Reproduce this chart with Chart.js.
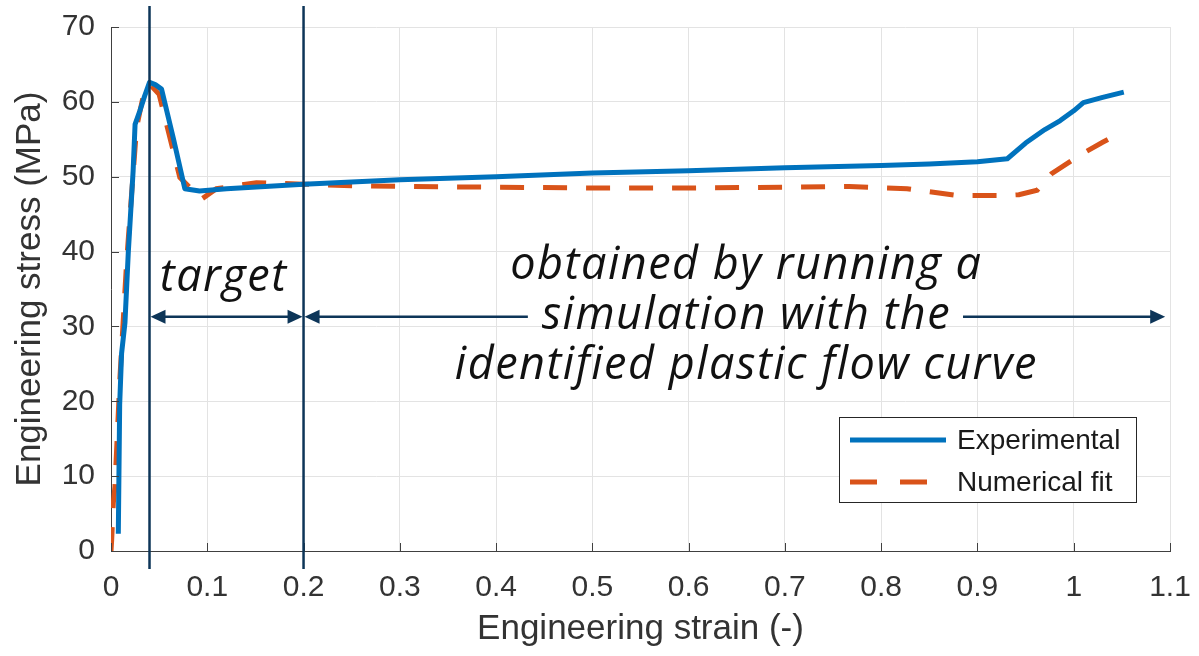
<!DOCTYPE html>
<html>
<head>
<meta charset="utf-8">
<script src="https://cdn.jsdelivr.net/npm/chart.js@4/dist/chart.umd.min.js"></script>
<style>
  html, body { margin: 0; padding: 0; background: #ffffff; }
  #wrap { width: 1199px; height: 656px; position: relative; }
</style>
</head>
<body>
<div id="wrap"><canvas id="stressChart"></canvas></div>
<script>
// Experimental curve
const expStrain = [0.0076, 0.009, 0.011, 0.0145, 0.018, 0.023, 0.025, 0.030, 0.035, 0.040, 0.046, 0.0525, 0.065, 0.0767, 0.092, 0.12, 0.16, 0.20, 0.30, 0.40, 0.50, 0.60, 0.70, 0.80, 0.85, 0.90, 0.931, 0.95, 0.97, 0.986, 1.0, 1.010, 1.03, 1.052];
const expStress = [2.3, 19.5, 26.4, 30.5, 40.0, 50.8, 57.0, 58.8, 60.8, 62.6, 62.3, 61.7, 55.0, 48.4, 48.1, 48.4, 48.7, 49.0, 49.6, 50.0, 50.5, 50.8, 51.2, 51.5, 51.7, 52.0, 52.4, 54.5, 56.3, 57.5, 58.8, 59.9, 60.6, 61.3];

// Numerical fit curve
const numStrain = [0.0, 0.0007, 0.0024, 0.0041, 0.0093, 0.0163, 0.0214, 0.0266, 0.033, 0.040, 0.050, 0.0715, 0.094, 0.1095, 0.151, 0.20, 0.25, 0.30, 0.40, 0.50, 0.60, 0.70, 0.767, 0.827, 0.878, 0.93, 0.943, 0.962, 0.977, 1.008, 1.03, 1.052];
const numStress = [0.0, 1.5, 6.4, 8.6, 23.2, 38.8, 47.7, 56.6, 60.5, 62.4, 61.0, 49.9, 47.0, 48.4, 49.2, 49.0, 48.8, 48.7, 48.6, 48.5, 48.5, 48.6, 48.7, 48.4, 47.5, 47.5, 47.6, 48.2, 50.4, 53.0, 54.6, 56.1];

const seriesNames = ['Experimental', 'Numerical fit'];
const xTickLabels = ['0', '0.1', '0.2', '0.3', '0.4', '0.5', '0.6', '0.7', '0.8', '0.9', '1', '1.1'];
const yTickLabels = ['0', '10', '20', '30', '40', '50', '60', '70'];

// Region markers and annotation text (strain / stress units)
const regionBounds = [0.04, 0.2];
const arrowStress = 31.3;
const longArrowGap = [0.433, 0.885];
const longArrowEnd = 1.095;
const targetLabel = { text: 'target', x: 0.117, y: 36.4 };
const noteLines = ['obtained by running a', 'simulation with the', 'identified plastic flow curve'];
const noteAnchor = { x: 0.66, y: 31.4 };

const BLUE = '#0072BD';
const ORANGE = '#D95319';
const NAVY = '#0d3558';
const AXIS = '#404040';
const TEXT = '#333333';

const toPoints = (xs, ys) => xs.map((x, i) => ({ x: x, y: ys[i] }));

function drawArrowHead(ctx, tipX, y, dir) {
    const len = 15, half = 7;
    ctx.beginPath();
    ctx.moveTo(tipX, y);
    ctx.lineTo(tipX - dir * len, y - half);
    ctx.lineTo(tipX - dir * len, y + half);
    ctx.closePath();
    ctx.fill();
}

function drawArrow(ctx, x1, x2, y, headLeft, headRight) {
    ctx.beginPath();
    ctx.moveTo(x1 + (headLeft ? 10 : 0), y);
    ctx.lineTo(x2 - (headRight ? 10 : 0), y);
    ctx.stroke();
    if (headLeft) drawArrowHead(ctx, x1, y, -1);
    if (headRight) drawArrowHead(ctx, x2, y, 1);
}

// inward tick marks on the bottom and left axes
const innerTicks = {
    id: 'innerTicks',
    afterDraw(chart) {
        const { ctx, chartArea, scales } = chart;
        ctx.save();
        ctx.strokeStyle = AXIS;
        ctx.lineWidth = 1;
        scales.x.ticks.forEach(t => {
            const px = Math.round(scales.x.getPixelForValue(t.value)) + 0.5;
            ctx.beginPath();
            ctx.moveTo(px, chartArea.bottom);
            ctx.lineTo(px, chartArea.bottom - 8);
            ctx.stroke();
        });
        scales.y.ticks.forEach(t => {
            const py = Math.round(scales.y.getPixelForValue(t.value)) + 0.5;
            ctx.beginPath();
            ctx.moveTo(chartArea.left, py);
            ctx.lineTo(chartArea.left + 8, py);
            ctx.stroke();
        });
        ctx.restore();
    }
};

// region lines, arrows and notes
const annotations = {
    id: 'annotations',
    afterDraw(chart) {
        const { ctx, chartArea, scales } = chart;
        const xs = scales.x, ys = scales.y;
        ctx.save();
        ctx.strokeStyle = NAVY;
        ctx.fillStyle = NAVY;
        ctx.lineWidth = 2.5;
        regionBounds.forEach(v => {
            const px = xs.getPixelForValue(v);
            ctx.beginPath();
            ctx.moveTo(px, 6);
            ctx.lineTo(px, chartArea.bottom + 18);
            ctx.stroke();
        });

        const ay = ys.getPixelForValue(arrowStress);
        drawArrow(ctx, xs.getPixelForValue(regionBounds[0]) + 1, xs.getPixelForValue(regionBounds[1]) - 1, ay, true, true);
        drawArrow(ctx, xs.getPixelForValue(regionBounds[1]) + 1, xs.getPixelForValue(longArrowGap[0]), ay, true, false);
        drawArrow(ctx, xs.getPixelForValue(longArrowGap[1]), xs.getPixelForValue(longArrowEnd), ay, false, true);

        ctx.fillStyle = '#111111';
        ctx.textAlign = 'center';
        ctx.textBaseline = 'middle';
        ctx.font = 'italic 45px "Open Sans", sans-serif';
        ctx.letterSpacing = '1.5px';
        ctx.fillText(targetLabel.text, xs.getPixelForValue(targetLabel.x), ys.getPixelForValue(targetLabel.y));
        const cx = xs.getPixelForValue(noteAnchor.x);
        const cy = ys.getPixelForValue(noteAnchor.y);
        noteLines.forEach((line, i) => {
            ctx.fillText(line, cx, cy + (i - 1) * 50);
        });
        ctx.restore();
    }
};

// boxed legend inside the plot area
const boxLegend = {
    id: 'boxLegend',
    afterDraw(chart) {
        const { ctx } = chart;
        const box = { left: 839, top: 417, width: 297, height: 85 };
        ctx.save();
        ctx.fillStyle = '#ffffff';
        ctx.fillRect(box.left, box.top, box.width, box.height);
        ctx.strokeStyle = '#262626';
        ctx.lineWidth = 1;
        ctx.strokeRect(box.left + 0.5, box.top + 0.5, box.width, box.height);
        chart.data.datasets.forEach((ds, i) => {
            const y = box.top + 23 + i * 42;
            ctx.strokeStyle = ds.borderColor;
            ctx.lineWidth = ds.borderWidth;
            ctx.setLineDash(i === 1 ? [27, 23] : []);
            ctx.beginPath();
            ctx.moveTo(box.left + 11, y);
            ctx.lineTo(box.left + 107, y);
            ctx.stroke();
            ctx.setLineDash([]);
            ctx.fillStyle = '#1a1a1a';
            ctx.font = '28px "Liberation Sans", Arial, sans-serif';
            ctx.textAlign = 'left';
            ctx.textBaseline = 'middle';
            ctx.fillText(ds.label, box.left + 118, y + 1);
        });
        ctx.restore();
    }
};

new Chart(document.getElementById('stressChart'), {
    type: 'scatter',
    data: {
        datasets: [{
            label: seriesNames[0],
            data: toPoints(expStrain, expStress),
            showLine: true,
            borderColor: BLUE,
            borderWidth: 5,
            pointRadius: 0,
            tension: 0,
            borderJoinStyle: 'round'
        }, {
            label: seriesNames[1],
            data: toPoints(numStrain, numStress),
            showLine: true,
            borderColor: ORANGE,
            borderWidth: 5,
            borderDash: [24, 19],
            pointRadius: 0,
            tension: 0
        }]
    },
    options: {
        responsive: true,
        maintainAspectRatio: false,
        animation: false,
        layout: { padding: { top: 27, right: 29, left: 0, bottom: 0 } },
        plugins: { legend: { display: false }, tooltip: { enabled: false } },
        scales: {
            x: {
                type: 'linear',
                min: 0,
                max: 1.1,
                // fixed axis band; label overhang is covered by the layout padding
                afterFit: s => { s.height = 105; s.paddingLeft = 0; s.paddingRight = 0; },
                ticks: {
                    stepSize: 0.1,
                    padding: 19,
                    color: TEXT,
                    font: { family: '"Liberation Sans", Arial, sans-serif', size: 30 },
                    callback: (v, i) => xTickLabels[i]
                },
                grid: { color: '#e3e3e3', drawTicks: false },
                border: { color: AXIS, width: 1 },
                title: {
                    display: true,
                    text: 'Engineering strain (-)',
                    color: TEXT,
                    font: { family: '"Liberation Sans", Arial, sans-serif', size: 35 },
                    padding: { top: 0, bottom: 6 }
                }
            },
            y: {
                min: 0,
                max: 70,
                afterFit: s => { s.width = 111; s.paddingTop = 0; s.paddingBottom = 0; },
                ticks: {
                    stepSize: 10,
                    padding: 16,
                    color: TEXT,
                    font: { family: '"Liberation Sans", Arial, sans-serif', size: 30 },
                    callback: (v, i) => yTickLabels[i]
                },
                grid: { color: '#e3e3e3', drawTicks: false },
                border: { color: AXIS, width: 1 },
                title: {
                    display: true,
                    text: 'Engineering stress (MPa)',
                    color: TEXT,
                    font: { family: '"Liberation Sans", Arial, sans-serif', size: 35 },
                    padding: { top: 9, bottom: 0 }
                }
            }
        }
    },
    plugins: [innerTicks, annotations, boxLegend]
});
</script>
</body>
</html>
